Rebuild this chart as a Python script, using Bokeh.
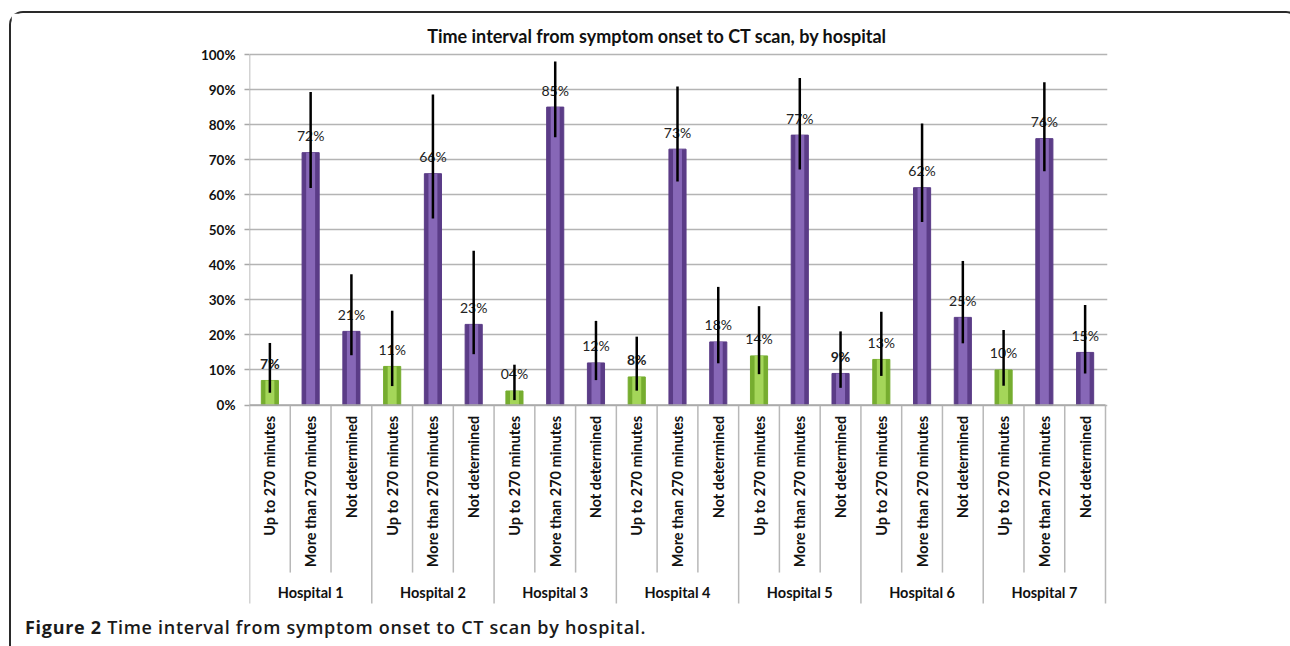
import math
from bokeh.plotting import figure
from bokeh.models import Range1d, FixedTicker, PrintfTickFormatter, ColumnDataSource, Div
from bokeh.layouts import column
from bokeh.core.properties import value
from bokeh.embed import file_html
from bokeh.resources import INLINE

# ---------------- data ----------------
hospitals = ["Hospital 1", "Hospital 2", "Hospital 3", "Hospital 4",
             "Hospital 5", "Hospital 6", "Hospital 7"]
categories = ["Up to 270 minutes", "More than 270 minutes", "Not determined"]

up_to_270 = [7, 11, 4, 8, 14, 13, 10]
more_than_270 = [72, 66, 85, 73, 77, 62, 76]
not_determined = [21, 23, 12, 18, 9, 25, 15]

up_labels = ["7%", "11%", "04%", "8%", "14%", "13%", "10%"]
more_labels = ["72%", "66%", "85%", "73%", "77%", "62%", "76%"]
nd_labels = ["21%", "23%", "12%", "18%", "9%", "25%", "15%"]

up_lo = [3.5, 5.4, 1.4, 4.1, 8.8, 8.3, 5.5]
up_hi = [17.7, 26.9, 11.5, 19.5, 28.2, 26.6, 21.4]
more_lo = [61.9, 53.2, 76.4, 63.8, 67.2, 52.2, 66.7]
more_hi = [89.3, 88.6, 98.0, 90.9, 93.3, 80.3, 92.1]
nd_lo = [14.2, 14.5, 7.1, 11.9, 4.9, 17.6, 9.0]
nd_hi = [37.3, 44.0, 24.0, 33.7, 21.0, 41.1, 28.5]

y_ticks = [0, 10, 20, 30, 40, 50, 60, 70, 80, 90, 100]

title_text = "Time interval from symptom onset to CT scan, by hospital"
caption_bold = "Figure 2"
caption_rest = "Time interval from symptom onset to CT scan by hospital."

# ---------------- layout ----------------
W, H = 1277, 599
n_cat = len(categories)
n_h = len(hospitals)
n_total = n_cat * n_h
Y_MIN, Y_MAX = -59.2, 111.7
CAT_BOTTOM = -56.63

p = figure(width=W, height=H, output_backend="svg", toolbar_location=None,
           x_range=Range1d(0, n_total + 0.049), y_range=Range1d(Y_MIN, Y_MAX),
           x_axis_location=None, min_border_left=238, min_border_right=181,
           min_border_top=0, min_border_bottom=0, tools="")
p.title.visible = False
p.outline_line_color = None
p.background_fill_color = "white"
p.border_fill_color = "white"

yax = p.yaxis[0]
yax.ticker = FixedTicker(ticks=y_ticks)
yax.formatter = PrintfTickFormatter(format="%d%%")
yax.axis_line_color = None
yax.major_tick_line_color = "#a8a8a8"
yax.major_tick_line_width = 1.5
yax.major_tick_out = 5
yax.major_tick_in = 0
yax.minor_tick_line_color = None
yax.major_label_text_font = "Lato"
yax.major_label_text_font_style = "bold"
yax.major_label_text_font_size = "13.5px"
yax.major_label_text_color = "#111"
yax.major_label_standoff = 9

p.xgrid.visible = False
p.ygrid[0].ticker = FixedTicker(ticks=y_ticks)
p.ygrid.grid_line_color = "#b4b4b4"
p.ygrid.grid_line_width = 1.5

# value axis line (drawn down through the category area, as in the original)
p.segment(x0=[0], x1=[0], y0=[CAT_BOTTOM], y1=[100], line_color="#a8a8a8", line_width=1.5)

# ---------------- bars ----------------
series = [
    (up_to_270, up_labels, up_lo, up_hi, "#76ad2f", "#a4d659"),
    (more_than_270, more_labels, more_lo, more_hi, "#5b3c87", "#8767b7"),
    (not_determined, nd_labels, nd_lo, nd_hi, "#5b3c87", "#8767b7"),
]

for ci, (vals, labs, lo, hi, dark, light) in enumerate(series):
    xs = [hi_i * n_cat + ci + 0.5 for hi_i in range(n_h)]
    src = ColumnDataSource(dict(x=xs, top=vals, lab=labs, lo=lo, hi=hi,
                                fs=["bold" if len(l) == 2 else "normal" for l in labs]))
    p.vbar(x="x", top="top", bottom=0, width=0.42, fill_color=dark,
           line_color=dark, line_width=1, source=src)
    p.vbar(x="x", top="top", bottom=0, width=0.22, fill_color=light,
           line_color=None, source=src)
    p.text(x="x", y="top", text="lab", source=src, text_align="center",
           text_baseline="middle", y_offset=-17, text_font=value("Lato"),
           text_font_size="14px", text_font_style="fs", text_color="#222")
    p.segment(x0="x", x1="x", y0="lo", y1="hi", source=src,
              line_color="black", line_width=2.5)

# ---------------- category axis (two levels) ----------------
cat_x = [h * n_cat + c + 0.5 for h in range(n_h) for c in range(n_cat)]
cat_t = [categories[c] for h in range(n_h) for c in range(n_cat)]
p.text(x=cat_x, y=[-3.1] * len(cat_x), text=cat_t, angle=math.pi / 2,
       text_align="right", text_baseline="middle", text_font=value("Lato"),
       text_font_style="bold", text_font_size="14.5px", text_color="#111")

inner_sep = [h * n_cat + c for h in range(n_h) for c in range(1, n_cat)]
p.segment(x0=inner_sep, x1=inner_sep, y0=[0] * len(inner_sep),
          y1=[-47.8] * len(inner_sep), line_color="#b8b8b8", line_width=1.5)
group_sep = [h * n_cat for h in range(1, n_h + 1)]
p.segment(x0=group_sep, x1=group_sep, y0=[0] * len(group_sep),
          y1=[CAT_BOTTOM] * len(group_sep), line_color="#b8b8b8", line_width=1.5)
p.segment(x0=[0], x1=[n_total], y0=[0], y1=[0], line_color="#a8a8a8", line_width=1.5)

hx = [h * n_cat + n_cat / 2 for h in range(n_h)]
p.text(x=hx, y=[-53.4] * n_h, text=hospitals, text_align="center",
       text_baseline="middle", text_font=value("Lato"), text_font_style="bold",
       text_font_size="14.5px", text_color="#111")

# ---------------- title ----------------
p.text(x=[10.0], y=[105.14], text=[title_text], text_align="center",
       text_baseline="middle", text_font=value("Lato"), text_font_style="bold",
       text_font_size="18px", text_color="#111")

# ---------------- caption ----------------
cap = Div(text=f"<span style='font-weight:bold'>{caption_bold}</span> {caption_rest}",
          width=W, height=32,
          styles={"font-family": "'Open Sans', sans-serif", "font-size": "18px",
                  "letter-spacing": "0.7px", "line-height": "20px",
                  "color": "#1a1a1a", "padding-left": "9px", "padding-top": "0px",
                  "font-weight": "600"})

root = column(p, cap, styles={"margin-left": "9px", "margin-top": "11px",
                              "border-left": "2px solid #2a2a2a",
                              "border-top": "2px solid #2a2a2a",
                              "border-right": "2px solid #2a2a2a",
                              "border-top-left-radius": "14px",
                              "border-top-right-radius": "14px"})

open("out.html", "w").write(file_html(root, INLINE))
